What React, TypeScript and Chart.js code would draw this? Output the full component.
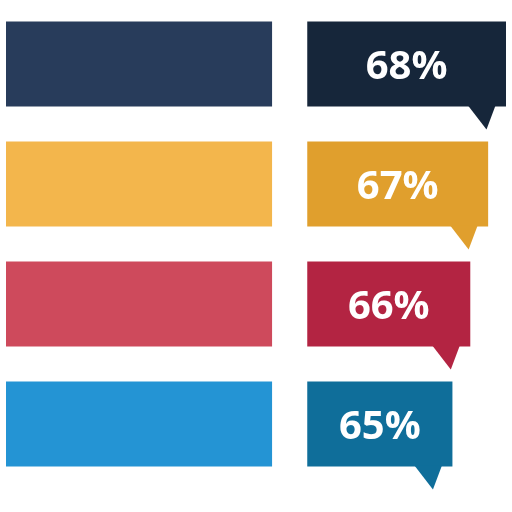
import React, { useEffect, useRef } from "react";
import { Chart, registerables } from "chart.js";

Chart.register(...registerables);

const categories = ["Row 1", "Row 2", "Row 3", "Row 4"];
const values = [68, 67, 66, 65];
const valueLabels = values.map((v) => `${v}%`);
const barColors = ["#283C5B", "#F3B64C", "#CE4A5C", "#2494D4"];
const boxColors = ["#16263A", "#E09F2D", "#B32442", "#0F6E9A"];
const BAR_RANGE = [40, 54.9];
const BOX_START = 56.87;
const AXIS_MIN = 40;
const AXIS_MAX = 68;

const calloutPlugin = {
  id: "callout",
  afterDatasetsDraw(chart: any) {
    const ctx = chart.ctx as CanvasRenderingContext2D;
    const meta = chart.getDatasetMeta(1);
    meta.data.forEach((el: any, i: number) => {
      const right = el.x;
      const left = el.base;
      const bottom = el.y + el.height / 2;
      ctx.save();
      ctx.fillStyle = boxColors[i];
      ctx.beginPath();
      ctx.moveTo(right - 38, bottom - 1);
      ctx.lineTo(right - 10.5, bottom - 1);
      ctx.lineTo(right - 19.5, bottom + 23);
      ctx.closePath();
      ctx.fill();

      const label = valueLabels[i];
      ctx.font = "bold 40px 'Open Sans'";
      ctx.fillStyle = "#FFFFFF";
      ctx.textAlign = "center";
      ctx.textBaseline = "alphabetic";
      const m = ctx.measureText(label);
      const asc = m.actualBoundingBoxAscent;
      const desc = m.actualBoundingBoxDescent;
      const cx = (left + right) / 2;
      const cy = el.y + 1;
      ctx.fillText(label, cx, cy + (asc - desc) / 2);
      ctx.restore();
    });
  },
};

export default function App() {
  const ref = useRef<HTMLCanvasElement | null>(null);
  useEffect(() => {
    if (!ref.current) return;
    const chart = new Chart(ref.current, {
      type: "bar",
      data: {
        labels: categories,
        datasets: [
          {
            label: "bar",
            data: categories.map(() => BAR_RANGE as any),
            backgroundColor: barColors,
            grouped: false,
            categoryPercentage: 1,
            barPercentage: 85 / 120,
            borderWidth: 0,
          } as any,
          {
            label: "box",
            data: values.map((v) => [BOX_START, v]) as any,
            backgroundColor: boxColors,
            grouped: false,
            categoryPercentage: 1,
            barPercentage: 85 / 120,
            borderWidth: 0,
          } as any,
        ],
      },
      options: {
        indexAxis: "y",
        responsive: false,
        animation: false,
        events: [],
        layout: { padding: { left: 6, right: 6, top: 4, bottom: 28 } },
        plugins: { legend: { display: false }, tooltip: { enabled: false } },
        scales: {
          x: { type: "linear", min: AXIS_MIN, max: AXIS_MAX, display: false },
          y: { display: false, offset: true },
        },
      },
      plugins: [calloutPlugin],
    });
    return () => chart.destroy();
  }, []);
  return (
    <div style={{ position: "fixed", left: 0, top: 0, width: 512, height: 512, background: "#FFFFFF" }}>
      <canvas ref={ref} width={512} height={512} style={{ display: "block" }} />
    </div>
  );
}
